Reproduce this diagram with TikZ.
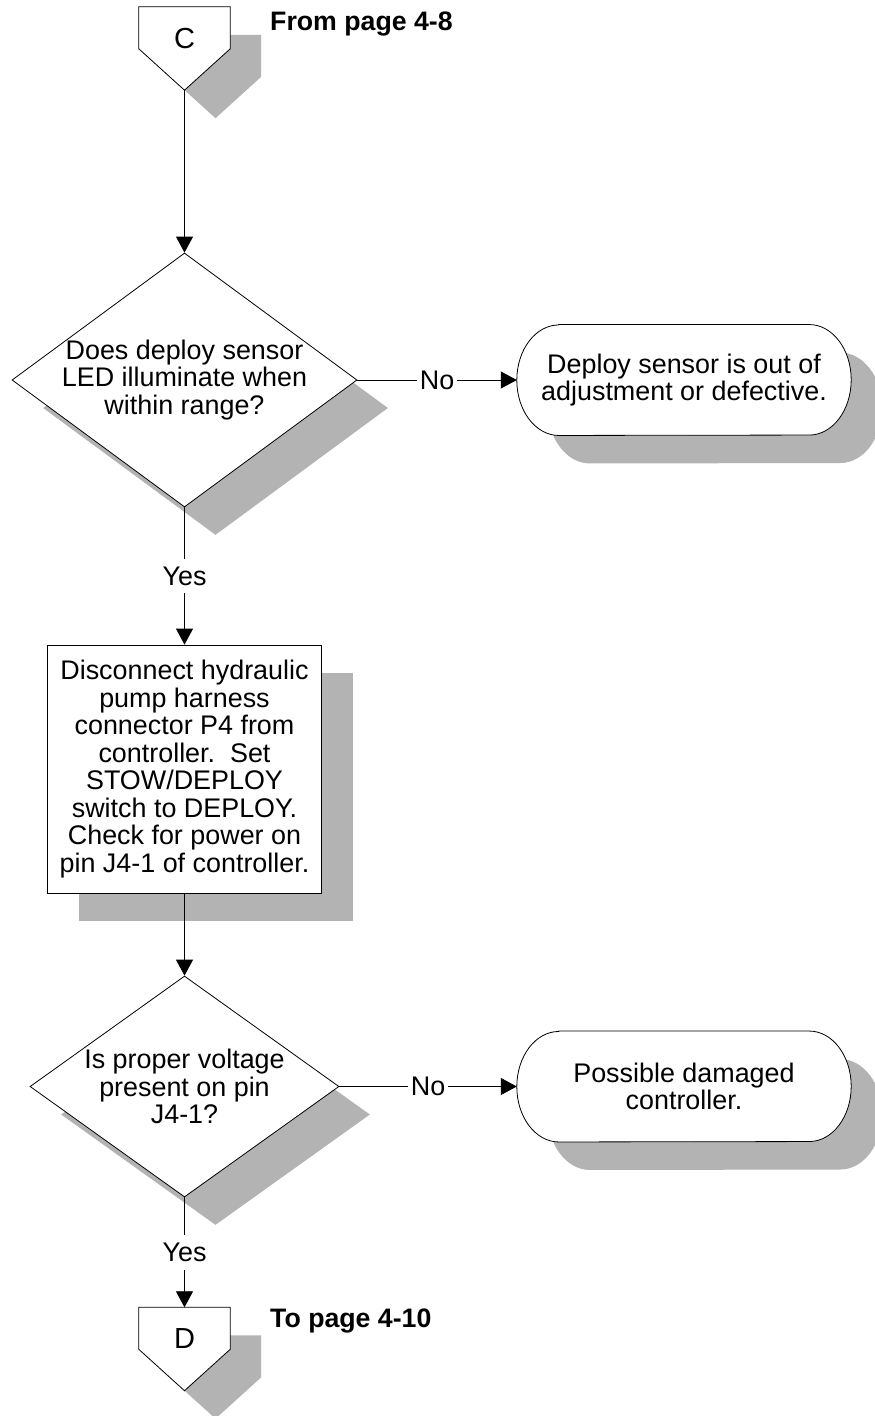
\documentclass[tikz,border=0pt]{standalone}
\usepackage{fontspec}
\setmainfont{Liberation Sans}
\usetikzlibrary{shapes.geometric,shadows,arrows.meta,backgrounds}
\definecolor{shadowgray}{RGB}{179,179,179}
\newcommand\drawterm[1]{%
 \fill[shadowgray] ([xshift=73pt,yshift=-28pt]#1.north west) -- ([xshift=-11pt,yshift=-28pt]#1.north east) arc[start angle=90,end angle=-90,x radius=42pt,y radius=55.25pt] -- ([xshift=73pt,yshift=-28pt]#1.south west) arc[start angle=270,end angle=90,x radius=42pt,y radius=55.25pt] -- cycle;
 \draw[fill=white,line width=0.8pt] ([xshift=42pt]#1.north west) -- ([xshift=-42pt]#1.north east) arc[start angle=90,end angle=-90,x radius=42pt,y radius=55.25pt] -- ([xshift=42pt]#1.south west) arc[start angle=270,end angle=90,x radius=42pt,y radius=55.25pt] -- cycle;}
\newcommand\drawoffpage[1]{%
 \fill[shadowgray] ([xshift=31pt,yshift=-28pt]#1.north west) -- ([xshift=31pt,yshift=-28pt]#1.north east) -- ([xshift=31pt,yshift=-70pt]#1.north east) -- ([xshift=31pt,yshift=-28pt]#1.south) -- ([xshift=31pt,yshift=-70pt]#1.north west) -- cycle;
 \draw[fill=white,line width=0.8pt] (#1.north west) -- (#1.north east) -- ([yshift=-42pt]#1.north east) -- (#1.south) -- ([yshift=-42pt]#1.north west) -- cycle;}
\begin{document}
\begin{tikzpicture}[x=1pt,y=1pt,
  txt/.style={font=\fontsize{26.9}{27.5}\selectfont, align=center},
  shad/.style={drop shadow={shadow xshift=31pt, shadow yshift=-28pt, fill=shadowgray, opacity=1}},
  decision/.style={diamond, draw, fill=white, line width=0.8pt, inner sep=-10pt, shad, txt},
  procbox/.style={rectangle, draw, fill=white, line width=0.8pt, inner sep=0pt, shad, txt, minimum width=274pt, minimum height=248pt},
  termnode/.style={rectangle, inner sep=0pt, minimum width=334pt, minimum height=110.5pt, txt},
  offpage/.style={rectangle, inner sep=0pt, minimum width=91pt, minimum height=83pt},
  connletter/.style={font=\fontsize{29}{30}\selectfont, anchor=base, inner sep=0pt},
  pagelbl/.style={font=\bfseries\fontsize{26.7}{28}\selectfont, anchor=base west, inner sep=0pt},
  conn/.style={-{Triangle[length=16pt,width=17pt]}, line width=0.8pt},
  lbl/.style={fill=white, inner xsep=3pt, inner ysep=8pt, font=\fontsize{26.9}{27.5}\selectfont}]
\useasboundingbox (0,0) rectangle (875,-1416);

% off-page connector C
\node[offpage] (c) at (184.5,-48.5) {};
\drawoffpage{c}
\node[connletter] (cletter) at (184.5,-48) {C};
\node[pagelbl] (fromlbl) at (270,-30) {From page 4-8};

% decision 1
\node[decision, minimum width=345pt, minimum height=254pt, aspect=1.36] (d1) at (184.5,-380)
  {Does deploy sensor\\LED illuminate when\\within range?};

% terminal 1
\node[termnode] (t1) at (684,-380) {Deploy sensor is out of\\adjustment or defective.};

% process box
\node[procbox] (box) at (184.5,-769)
  {Disconnect hydraulic\\pump harness\\connector P4 from\\controller.\ \ Set\\STOW/DEPLOY\\switch to DEPLOY.\\Check for power on\\pin J4-1 of controller.};

% decision 2
\node[decision, minimum width=309pt, minimum height=221pt, aspect=1.4] (d2) at (184.5,-1086.5)
  {Is proper voltage\\present on pin\\J4-1?};

% terminal 2
\node[termnode] (t2) at (684,-1086.5) {Possible damaged\\controller.};

% off-page connector D
\node[offpage] (dconn) at (184.5,-1349) {};
\drawoffpage{dconn}
\node[connletter] (dletter) at (184.5,-1348) {D};
\node[pagelbl] (tolbl) at (270,-1327) {To page 4-10};

\begin{scope}[on background layer]
\drawterm{t1}
\drawterm{t2}
\end{scope}

% connectors
\draw[conn] (c.south) -- (d1.north);
\draw[conn] (d1.east) -- node[lbl] (no1) {No} (t1.west);
\draw[conn] (d1.south) -- node[lbl] (yes1) {Yes} (box.north);
\draw[conn] (box.south) -- (d2.north);
\draw[conn] (d2.east) -- node[lbl] (no2) {No} (t2.west);
\draw[conn] (d2.south) -- node[lbl] (yes2) {Yes} (dconn.north);
\end{tikzpicture}
\end{document}
